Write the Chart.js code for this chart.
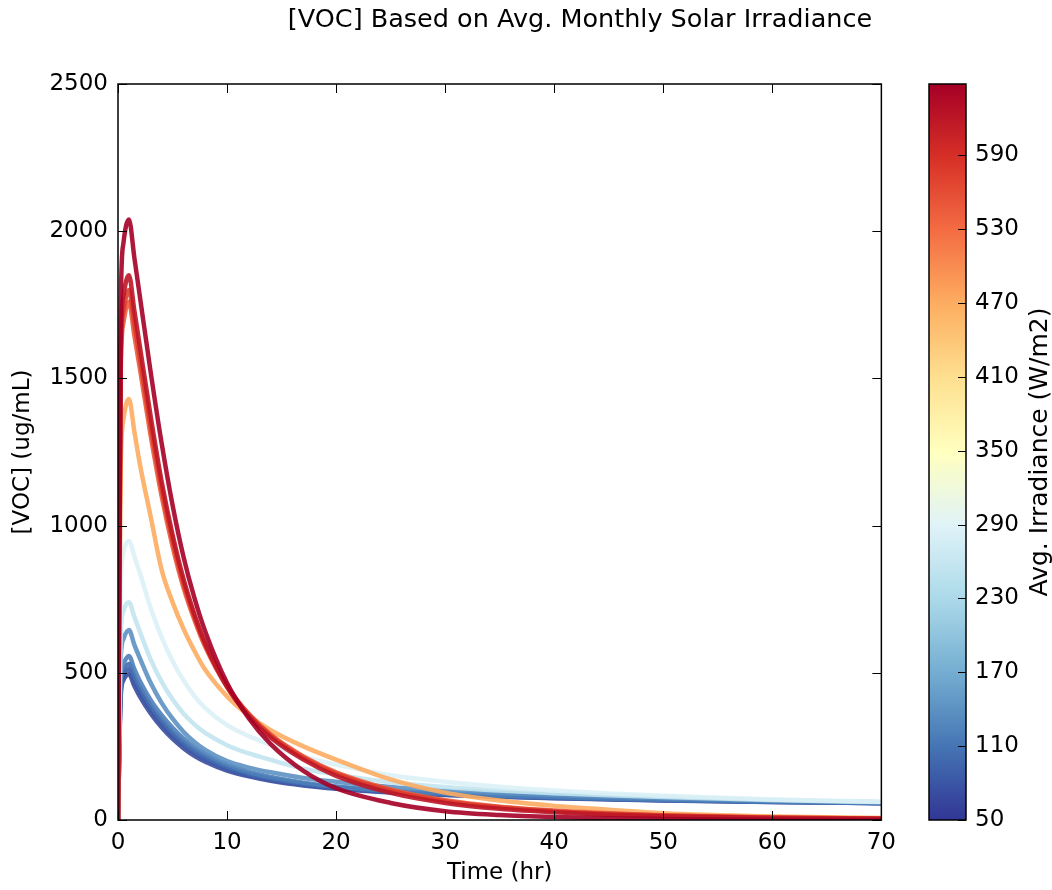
<!DOCTYPE html>
<html>
<head>
<meta charset="utf-8">
<script src="https://cdn.jsdelivr.net/npm/chart.js@4"></script>
<style>
  body { margin: 0; background: #fff; }
  #wrap { position: relative; width: 1052px; height: 890px; }
  #title { position: absolute; top: 4px; left: 0; width: 1160px; text-align: center;
           font: 25.5px 'DejaVu Sans', sans-serif; color: #000; line-height: 28px; }
  #main { position: absolute; left: 0; top: 0; }
  #cbar { position: absolute; left: 900px; top: 0; }
</style>
</head>
<body>
<div id="wrap">
  <canvas id="main" width="905" height="890"></canvas>
  <canvas id="cbar" width="152" height="890"></canvas>
  <div id="title">[VOC] Based on Avg. Monthly Solar Irradiance</div>
</div>
<script>
// time points (hr)
var times = [0, 0.25, 0.5, 1, 1.5, 2, 3, 4, 5, 6, 7, 8, 10, 12, 14, 17, 20, 25, 30, 35, 40, 45, 50, 60, 70];

// avg irradiance of each curve (W/m2)
var irradiance = [648, 620, 575, 545, 470, 285, 255, 140, 120, 100, 85, 70];

// [VOC] (ug/mL)
var voc648 = [0, 1750, 1960, 2040, 1910, 1780, 1520, 1280, 1070, 895, 755, 640, 465, 345, 258, 167, 108, 58, 30, 17, 10, 6, 3, 1, 0];
var voc620 = [0, 1600, 1780, 1850, 1730, 1610, 1370, 1150, 970, 820, 700, 600, 452, 352, 280, 205, 150, 92, 58, 38, 26, 18, 13, 7, 4];
var voc575 = [0, 1560, 1730, 1800, 1685, 1570, 1335, 1125, 950, 805, 690, 595, 455, 358, 287, 212, 158, 100, 64, 43, 30, 21, 15, 8, 5];
var voc545 = [0, 1520, 1690, 1760, 1645, 1535, 1305, 1100, 930, 790, 680, 588, 452, 360, 290, 216, 162, 104, 67, 45, 32, 23, 16, 9, 5];
var voc470 = [0, 1200, 1360, 1430, 1320, 1210, 1030, 850, 740, 650, 575, 510, 420, 355, 305, 250, 205, 138, 93, 66, 48, 35, 23, 12, 7];
var voc285 = [0, 800, 910, 948, 895, 840, 720, 620, 540, 475, 422, 380, 322, 285, 255, 215, 188, 152, 130, 113, 100, 90, 82, 70, 62];
var voc255 = [0, 630, 710, 740, 690, 640, 545, 470, 410, 362, 325, 296, 254, 226, 204, 174, 155, 128, 112, 100, 91, 84, 78, 68, 61];
var voc140 = [0, 550, 615, 645, 595, 550, 465, 398, 344, 300, 265, 238, 200, 178, 162, 143, 130, 112, 100, 92, 85, 79, 74, 66, 60];
var voc120 = [0, 475, 530, 557, 512, 472, 407, 356, 313, 277, 247, 224, 188, 163, 146, 127, 114, 99, 90, 83, 78, 73, 69, 63, 58];
var voc100 = [0, 450, 505, 530, 487, 450, 388, 340, 299, 265, 237, 215, 180, 157, 141, 123, 111, 97, 88, 81, 76, 72, 68, 62, 58];
var voc85 = [0, 435, 490, 512, 470, 434, 375, 328, 288, 255, 228, 207, 174, 152, 137, 120, 108, 95, 86, 80, 75, 71, 67, 61, 57];
var voc70 = [0, 420, 475, 495, 455, 420, 362, 315, 276, 244, 218, 198, 168, 148, 133, 117, 106, 93, 85, 79, 74, 70, 66, 61, 57];

var vocSeries = [voc648, voc620, voc575, voc545, voc470, voc285, voc255, voc140, voc120, voc100, voc85, voc70];

// colorbar range and ticks
var irrMin = 50;
var irrMax = 648;
var cbarTicks = [50, 110, 170, 230, 290, 350, 410, 470, 530, 590];

// RdYlBu_r
var cmap = ['#313695', '#4575b4', '#74add1', '#abd9e9', '#e0f3f8', '#ffffbf',
            '#fee090', '#fdae61', '#f46d43', '#d73027', '#a50026'];

function hexToRgb(h) {
  return [parseInt(h.substr(1, 2), 16), parseInt(h.substr(3, 2), 16), parseInt(h.substr(5, 2), 16)];
}
function colorFor(v) {
  var f = (v - irrMin) / (irrMax - irrMin) * 10;
  f = Math.max(0, Math.min(10, f));
  var i = Math.min(9, Math.floor(f)), r = f - i;
  var a = hexToRgb(cmap[i]), b = hexToRgb(cmap[i + 1]);
  var c = a.map(function (x, k) { return Math.round(x + (b[k] - x) * r); });
  return 'rgba(' + c[0] + ',' + c[1] + ',' + c[2] + ',0.9)';
}

var tickFont = { family: 'DejaVu Sans', size: 23 };
var labelFont = { family: 'DejaVu Sans', size: 23 };

var datasets = vocSeries.map(function (vals, k) {
  return {
    label: irradiance[k] + ' W/m2',
    data: times.map(function (t, i) { return { x: t, y: vals[i] }; }),
    borderColor: colorFor(irradiance[k]),
    borderWidth: 4.5,
    pointRadius: 0,
    fill: false,
    cubicInterpolationMode: 'monotone'
  };
});

// ticks pointing inward + frame, like the classic matplotlib look
var innerTicks = {
  id: 'innerTicks',
  afterDraw: function (chart) {
    var ctx = chart.ctx, a = chart.chartArea, x = chart.scales.x, y = chart.scales.y;
    ctx.save();
    ctx.strokeStyle = '#000';
    ctx.lineWidth = 1;
    ctx.beginPath();
    x.ticks.forEach(function (t, i) {
      var px = Math.round(x.getPixelForTick(i)) + 0.5;
      ctx.moveTo(px, a.bottom); ctx.lineTo(px, a.bottom - 9);
      ctx.moveTo(px, a.top); ctx.lineTo(px, a.top + 9);
    });
    y.ticks.forEach(function (t, i) {
      var py = Math.round(y.getPixelForTick(i)) + 0.5;
      ctx.moveTo(a.left, py); ctx.lineTo(a.left + 9, py);
      ctx.moveTo(a.right, py); ctx.lineTo(a.right - 9, py);
    });
    ctx.stroke();
    ctx.lineWidth = 1.5;
    ctx.strokeRect(a.left, a.top, a.right - a.left, a.bottom - a.top);
    ctx.restore();
  }
};

new Chart(document.getElementById('main'), {
  type: 'line',
  data: { datasets: datasets },
  options: {
    responsive: false,
    animation: false,
    devicePixelRatio: 1,
    layout: { padding: { top: 84, right: 14, left: 0, bottom: 0 } },
    plugins: { legend: { display: false }, tooltip: { enabled: false } },
    scales: {
      x: {
        type: 'linear', min: 0, max: 70,
        ticks: { stepSize: 10, font: tickFont, color: '#000', padding: 9, maxRotation: 0,
                 callback: function (v) { return String(v); } },
        grid: { display: false, drawTicks: false },
        border: { display: false },
        title: { display: true, text: 'Time (hr)', font: labelFont, color: '#000', padding: { top: 0, bottom: 3 } },
        afterFit: function (s) { s.height = 70; }
      },
      y: {
        min: 0, max: 2500,
        ticks: { stepSize: 500, font: tickFont, color: '#000', padding: 10,
                 callback: function (v) { return String(v); } },
        grid: { display: false, drawTicks: false },
        border: { display: false },
        title: { display: true, text: '[VOC] (ug/mL)', font: labelFont, color: '#000', padding: { top: 9, bottom: 0 } },
        afterFit: function (s) { s.width = 118; }
      }
    }
  },
  plugins: [innerTicks]
});

// colorbar
var cbarDecor = {
  id: 'cbarDecor',
  afterDraw: function (chart) {
    var ctx = chart.ctx, a = chart.chartArea, y = chart.scales.y;
    ctx.save();
    ctx.strokeStyle = '#000';
    ctx.lineWidth = 1;
    ctx.beginPath();
    y.ticks.forEach(function (t, i) {
      var py = Math.round(y.getPixelForTick(i)) + 0.5;
      ctx.moveTo(a.right, py); ctx.lineTo(a.right - 8, py);
    });
    ctx.stroke();
    ctx.lineWidth = 1.5;
    ctx.strokeRect(a.left, a.top, a.right - a.left, a.bottom - a.top);
    ctx.translate(140, (a.top + a.bottom) / 2);
    ctx.rotate(-Math.PI / 2);
    ctx.fillStyle = '#000';
    ctx.font = '25px "DejaVu Sans"';
    ctx.textAlign = 'center';
    ctx.textBaseline = 'middle';
    ctx.fillText('Avg. Irradiance (W/m2)', 0, 0);
    ctx.restore();
  }
};

new Chart(document.getElementById('cbar'), {
  type: 'bar',
  data: {
    labels: [''],
    datasets: [{
      data: [[irrMin, irrMax]],
      backgroundColor: function (c) {
        var a = c.chart.chartArea;
        if (!a) return '#fff';
        var g = c.chart.ctx.createLinearGradient(0, a.bottom, 0, a.top);
        cmap.forEach(function (col, i) { g.addColorStop(i / 10, col); });
        return g;
      },
      borderWidth: 0,
      barPercentage: 1,
      categoryPercentage: 1
    }]
  },
  options: {
    responsive: false,
    animation: false,
    devicePixelRatio: 1,
    layout: { padding: { top: 84, bottom: 70, left: 29, right: 0 } },
    plugins: { legend: { display: false }, tooltip: { enabled: false } },
    scales: {
      x: { display: false },
      y: {
        position: 'right', min: irrMin, max: irrMax,
        afterBuildTicks: function (s) { s.ticks = cbarTicks.map(function (v) { return { value: v }; }); },
        afterFit: function (s) { s.width = 86; },
        ticks: { font: tickFont, color: '#000', padding: 9 },
        grid: { display: false, drawTicks: false },
        border: { display: false }
      }
    }
  },
  plugins: [cbarDecor]
});
</script>
</body>
</html>
